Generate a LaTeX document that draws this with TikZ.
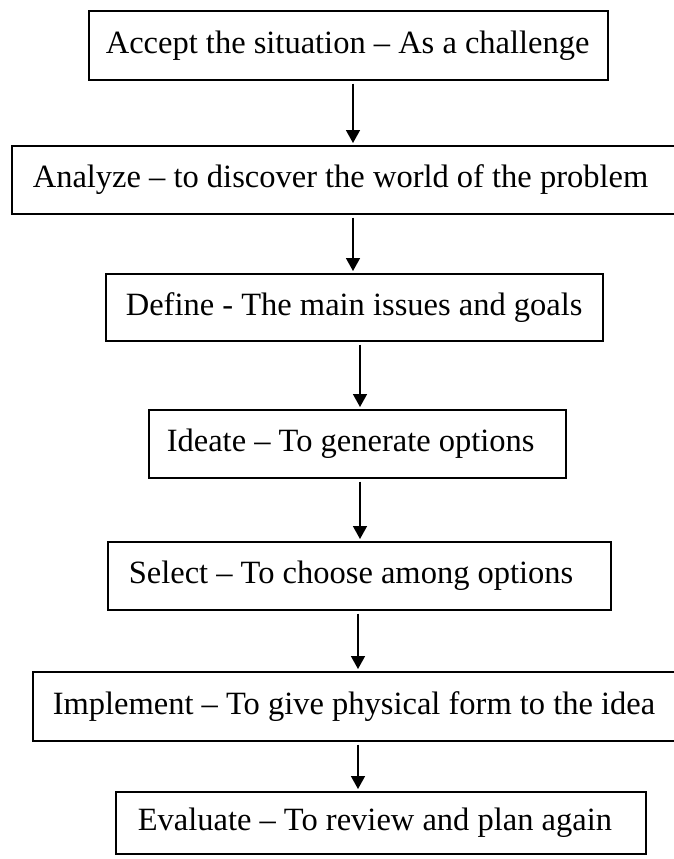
\documentclass[tikz,border=0pt]{standalone}
\usepackage{fontspec}
\setmainfont{Liberation Serif}
\usetikzlibrary{arrows.meta}

\tikzset{
  stage/.style={draw=black, line width=1.6pt, rectangle, anchor=north west,
    inner ysep=0pt, font=\fontsize{32.5}{39}\selectfont},
  flow/.style={line width=1.6pt, shorten <=3pt, shorten >=2pt,
    -{Triangle[length=13pt,width=14pt]}}
}

% a stage box: left, top, width, height, left padding, name, text
\newcommand{\stagebox}[7]{%
  \node[stage, minimum width=#3, minimum height=#4, inner xsep=0pt]
    (#6) at (#1,#2) {\makebox[#3][l]{\hspace*{#5}#7}};}

\begin{document}
\begin{tikzpicture}[x=1pt,y=-1pt]
\useasboundingbox (0,0) rectangle (673,859);

\stagebox{88}{10}{519pt}{69pt}{17pt}{s1}{Accept the situation -- As a challenge}
\stagebox{11}{145}{669pt}{68pt}{21pt}{s2}{Analyze -- to discover the world of the problem}
\stagebox{105}{273}{497pt}{67pt}{20pt}{s3}{Define - The main issues and goals}
\stagebox{148}{409}{417pt}{68pt}{18pt}{s4}{Ideate -- To generate options}
\stagebox{107}{541}{503pt}{68pt}{21pt}{s5}{Select -- To choose among options}
\stagebox{32}{671}{648pt}{69pt}{20pt}{s6}{Implement -- To give physical form to the idea}
\stagebox{115}{791}{530pt}{62pt}{22pt}{s7}{Evaluate -- To review and plan again}

\draw[flow] (s1.south -| 353,0) -- (s2.north -| 353,0);
\draw[flow] (s2.south -| 353,0) -- (s3.north -| 353,0);
\draw[flow] (s3.south -| 360,0) -- (s4.north -| 360,0);
\draw[flow] (s4.south -| 360,0) -- (s5.north -| 360,0);
\draw[flow] (s5.south -| 358,0) -- (s6.north -| 358,0);
\draw[flow] (s6.south -| 358,0) -- (s7.north -| 358,0);
\end{tikzpicture}
\end{document}
